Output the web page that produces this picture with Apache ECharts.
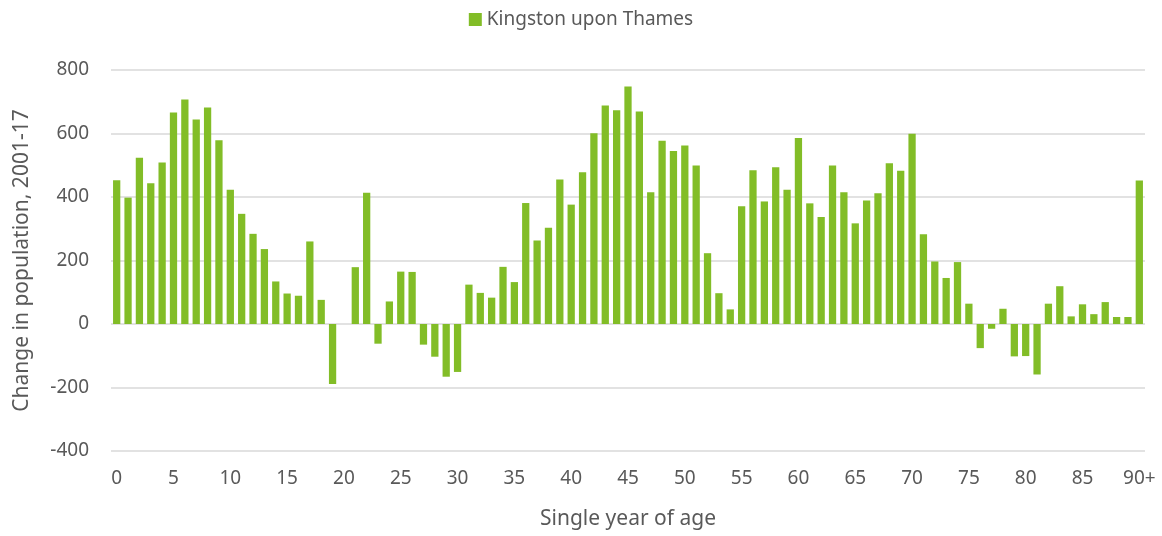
<!DOCTYPE html>
<html>
<head>
<meta charset="utf-8">
<script src="https://cdn.jsdelivr.net/npm/echarts@6/dist/echarts.min.js"></script>
<style>
  html, body { margin: 0; padding: 0; background: #fff; }
  #chart { width: 1162px; height: 536px; }
</style>
</head>
<body>
<div id="chart"></div>
<script>
// ages 0..89 then 90+
const ages = [];
for (let i = 0; i < 90; i++) ages.push(String(i));
ages.push('90+');

const seriesName = 'Kingston upon Thames';

const change = [
  453, 398, 524, 443, 509, 666, 707, 644, 682, 579,
  423, 347, 284, 236, 134, 96, 89, 260, 76, -189,
  0, 179, 413, -62, 71, 165, 164, -65, -103, -166,
  -151, 124, 98, 83, 180, 132, 381, 263, 303, 455,
  376, 478, 601, 688, 673, 748, 669, 415, 577, 545,
  562, 499, 223, 97, 46, 371, 484, 386, 494, 423,
  586, 380, 337, 499, 415, 317, 389, 412, 506, 483,
  599, 283, 197, 145, 195, 64, -76, -15, 48, -102,
  -101, -159, 64, 119, 24, 62, 31, 69, 22, 22,
  452
];

const yTicks = { min: -400, max: 800, interval: 200 };

const font = 'Noto Sans';
const textColor = '#595959';

var myChart = echarts.init(document.getElementById('chart'));
const option = {
    animation: false,
    legend: {
        data: [seriesName],
        top: 5,
        left: 'center',
        icon: 'rect',
        itemWidth: 13,
        itemHeight: 13,
        itemGap: 6,
        textStyle: { fontFamily: font, fontSize: 19, color: textColor }
    },
    grid: {
        left: 111,
        right: 17,
        top: 70,
        bottom: 85
    },
    xAxis: {
        type: 'category',
        data: ages,
        name: 'Single year of age',
        nameLocation: 'middle',
        nameGap: 58,
        nameTextStyle: { fontFamily: font, fontSize: 21, color: textColor },
        axisLine: { show: false, onZero: false },
        axisTick: { show: false },
        axisLabel: {
            interval: (index) => index % 5 === 0 || index === 90,
            margin: 18,
            fontFamily: font,
            fontSize: 19,
            color: textColor
        },
        splitLine: { show: false }
    },
    yAxis: {
        type: 'value',
        min: yTicks.min,
        max: yTicks.max,
        interval: yTicks.interval,
        name: 'Change in population, 2001-17',
        nameLocation: 'middle',
        nameGap: 78,
        nameTextStyle: { fontFamily: font, fontSize: 21, color: textColor },
        axisLine: { show: false },
        axisTick: { show: false },
        axisLabel: { margin: 22, fontFamily: font, fontSize: 19, color: textColor },
        splitLine: { lineStyle: { color: '#d9d9d9', width: 1.5 } }
    },
    series: [{
        name: seriesName,
        type: 'bar',
        data: change,
        barCategoryGap: '36%',
        itemStyle: {
            color: '#82bd27'
        }
    }]
};
myChart.setOption(option, true);
</script>
</body>
</html>
